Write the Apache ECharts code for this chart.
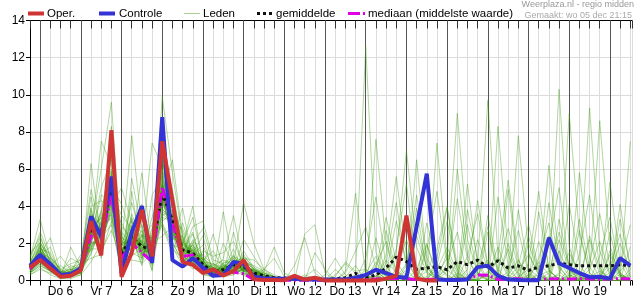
<!DOCTYPE html>
<html><head><meta charset="utf-8">
<script src="https://cdn.jsdelivr.net/npm/echarts@6/dist/echarts.min.js"></script>
<style>html,body{margin:0;padding:0;background:#fff}#c{width:635px;height:300px}</style>
</head><body><div id="c"></div>
<script>
// 6-hourly steps; index 0 = wo 5 dec 18:00
const days = ['Do 6','Vr 7','Za 8','Zo 9','Ma 10','Di 11','Wo 12','Do 13','Vr 14','Za 15','Zo 16','Ma 17','Di 18','Wo 19'];
const yTicks = [0,2,4,6,8,10,12,14];

const oper = [0.72,1.1,0.65,0.2,0.25,0.55,3.2,1.35,8.1,0.2,1.5,3.8,1.3,7.5,4.3,1.0,0.85,0.4,0.6,0.27,0.5,1.1,0.07,0.03,0.03,0.02,0.25,0.05,0.15,0,0,0,0,0,0,0.1,0.25,3.5,0.1,0,0];
const controle = [0.8,1.38,0.88,0.3,0.35,0.65,3.45,2.35,5.6,0.4,2.6,4.0,0.95,8.8,1.1,0.75,1.2,0.7,0.25,0.3,1.0,0.9,0.2,0.12,0.1,0.1,0.1,0.05,0.05,0.05,0.05,0.05,0.15,0.3,0.58,0.4,0.2,0.15,2.9,5.75,0.05,0.03,0.03,0.05,0.72,0.8,0.25,0.05,0.03,0.02,0.02,2.3,0.93,0.67,0.4,0.18,0.2,0.1,1.2,0.8];
const gemiddelde = [0.7,1.3,0.8,0.3,0.35,0.62,2.8,2.55,4.9,1.4,2.37,1.83,1.65,4.7,3.27,1.65,1.48,0.85,0.48,0.58,0.85,0.75,0.4,0.25,0.15,0.13,0.1,0.1,0.05,0.03,0.1,0.15,0.38,0.15,0.3,0.67,1.26,1.02,0.6,0.67,0.75,0.58,1.02,0.85,1.1,0.72,1.06,0.67,0.79,0.54,0.72,0.79,0.93,0.85,0.79,0.79,0.79,0.79,0.85,0.79];
const mediaan = [0.62,1.2,0.75,0.28,0.3,0.6,2.4,2.2,4.6,1.2,2.0,1.5,1.0,5.05,3.0,1.3,1.38,0.6,0.3,0.35,0.45,0.36,0.05,0.03,0.02,0.02,0.02,0.02,0.02,0.02,0.02,0.03,0.05,0.05,0.08,0.1,0.1,0.08,0.05,0.05,0.08,0.06,0.08,0.05,0.3,0.28,0.05,0.08,0.1,0.06,0.05,0.08,0.1,0.07,0.1,0.08,0.06,0.08,0.1,0.08];

// ensemble members (Leden): part A = idx 0-21, part B = idx 22-32, part C = idx 33-59
const ledenA = [
[0.5,1.1,0.6,0.2,0.3,0.5,3.1,1.8,5.6,0.6,2.9,3.5,0.9,6.8,2.5,1.2,1.0,0.6,0.3,0.4,1.1,0.9],
[0.9,2.3,1.0,0.4,0.2,0.8,2.0,3.5,4.2,2.2,1.5,1.2,2.8,4.0,4.5,2.0,1.8,0.9,0.7,0.3,0.5,0.6],
[0.6,1.6,0.9,0.3,0.5,0.4,1.5,2.8,6.8,1.0,3.6,2.0,1.1,5.5,2.0,1.1,2.2,1.3,0.4,0.8,0.6,1.2],
[1.2,3.3,1.2,0.6,0.9,1.1,4.5,2.1,3.8,3.1,2.0,1.6,1.9,3.5,3.8,2.6,1.0,0.5,0.9,0.5,1.4,0.4],
[0.4,0.8,0.5,0.1,0.2,0.3,2.7,6.0,9.6,1.4,1.7,2.4,0.6,7.9,3.0,0.9,1.6,0.7,0.3,3.7,0.8,0.5],
[0.8,1.4,2.3,0.5,0.3,0.9,1.2,1.4,3.2,0.4,4.8,1.3,2.3,2.9,1.5,3.1,1.4,1.9,0.6,0.2,0.3,1.0],
[0.3,0.6,0.4,0.2,1.8,0.7,3.6,3.0,5.1,4.1,2.4,0.9,1.5,9.9,5.8,2.2,0.7,0.4,0.2,0.6,1.7,0.3],
[1.0,1.9,0.7,0.3,0.4,0.5,1.9,2.4,4.6,1.8,7.8,2.9,1.0,4.3,2.7,1.4,2.9,3.2,1.1,0.9,0.5,0.8],
[0.6,1.2,0.8,1.3,0.6,0.4,6.3,2.2,3.6,0.9,1.3,1.8,7.4,6.1,1.8,0.8,1.2,0.6,0.4,0.3,0.9,4.2],
[0.7,1.0,0.6,0.3,0.2,0.6,2.3,7.5,6.2,2.6,1.9,5.8,1.7,3.2,3.6,1.7,1.3,0.8,2.5,0.7,0.4,0.6],
[1.5,2.0,1.1,0.4,0.3,0.8,2.9,1.6,2.7,1.2,2.6,1.5,3.4,5.0,2.3,1.9,4.0,0.9,0.5,1.2,3.5,0.9],
[0.4,0.9,0.5,0.2,0.5,1.4,1.6,3.2,5.4,0.2,2.2,2.1,1.3,4.8,6.5,2.4,0.9,0.3,0.2,0.4,0.6,0.5],
[0.8,1.7,1.5,0.5,0.3,0.5,3.3,2.7,7.2,1.6,1.1,1.0,2.0,2.4,2.9,1.3,1.9,1.2,0.8,0.6,0.7,1.4],
[0.5,1.3,0.7,0.2,0.4,0.6,2.1,1.9,4.0,5.0,3.1,2.6,0.8,5.9,3.3,1.0,1.5,2.4,0.3,0.5,1.0,0.6],
[0.9,1.5,0.8,0.4,1.2,0.9,4.0,4.3,3.9,1.3,2.7,1.4,1.8,4.5,2.2,3.9,1.1,0.5,0.6,0.9,0.3,0.7],
[0.3,0.7,0.3,0.1,0.1,0.3,1.0,2.0,5.8,0.8,2.0,3.0,1.2,6.4,4.0,1.5,2.5,0.8,0.4,0.2,0.6,2.2],
[1.1,2.6,1.3,0.5,0.6,0.7,2.4,3.7,4.4,2.0,3.3,1.1,2.5,3.0,1.7,1.2,0.6,1.6,1.3,1.5,2.1,0.8],
[0.6,1.1,0.9,0.3,0.3,0.4,1.8,2.5,8.3,1.1,1.6,2.2,0.5,3.8,3.4,2.0,3.4,1.0,0.7,0.4,0.5,0.3],
[0.7,1.8,0.6,0.8,0.4,1.0,3.0,1.2,4.8,3.5,2.8,1.7,1.4,7.0,2.6,1.4,0.8,0.4,0.2,1.0,0.9,1.1],
[0.5,1.0,0.5,0.2,0.2,0.5,2.6,2.9,3.4,1.7,4.2,2.3,3.0,4.2,4.9,1.8,1.4,0.7,0.5,0.3,0.4,0.6],
[0.8,1.4,1.8,0.3,0.3,0.6,1.4,3.1,5.3,0.7,2.5,1.9,1.6,5.2,2.1,0.9,2.0,2.8,0.9,0.7,1.2,0.5],
[0.4,1.2,0.7,0.4,0.8,0.6,3.8,2.0,4.5,2.4,1.4,4.1,1.0,3.6,3.1,2.8,1.2,0.6,0.3,2.0,0.8,0.9],
[1.0,2.1,0.9,0.3,0.3,0.5,2.2,5.0,6.5,1.9,2.1,1.2,2.6,8.2,3.7,1.6,0.9,0.5,0.4,0.5,0.6,0.4],
[0.6,0.9,0.6,0.2,0.2,0.4,2.0,2.3,3.0,0.5,5.5,2.7,1.3,4.4,2.4,1.1,1.7,1.1,1.6,0.6,1.3,0.7],
[0.7,1.6,1.0,0.3,0.5,1.2,4.9,2.6,4.1,1.3,1.8,1.6,1.9,4.9,2.8,2.1,1.5,0.8,0.5,0.8,0.5,1.6],
[0.9,1.3,0.8,0.5,0.3,0.6,1.7,1.7,5.9,2.9,2.3,0.8,4.6,5.6,3.5,1.3,1.0,0.9,0.6,0.4,2.6,0.6],
[0.5,1.1,0.5,0.2,0.6,0.5,2.8,3.4,3.5,1.0,2.7,2.0,1.2,3.1,1.9,1.7,2.6,0.6,0.3,0.7,0.6,0.8],
[0.8,1.5,1.2,0.4,0.3,0.8,2.5,2.8,4.7,1.6,3.0,1.4,2.2,6.0,4.2,1.0,1.3,1.4,0.8,1.1,0.9,0.5],
[0.6,1.9,0.7,0.3,0.4,0.4,3.4,1.5,5.0,2.1,1.6,2.5,0.9,4.6,2.2,2.4,0.8,0.5,0.4,0.5,1.0,1.2],
[0.4,1.2,0.6,0.2,0.3,0.7,2.1,4.6,4.3,1.4,2.4,1.9,1.7,3.9,3.0,1.5,1.9,1.1,0.7,0.6,0.7,0.6],
[0.6,1.4,0.7,0.3,0.4,0.6,2.6,2.2,5.0,1.2,2.1,1.7,1.5,4.9,3.0,1.5,1.4,0.8,0.5,0.6,0.9,0.7],
[0.9,1.7,1.1,0.4,0.3,0.7,3.0,3.3,4.4,1.9,2.6,2.0,1.8,4.1,3.6,1.8,1.6,1.0,0.6,0.5,0.8,0.9],
[0.5,1.0,0.6,0.2,0.5,0.5,2.2,2.6,5.7,1.0,2.9,1.5,1.2,5.3,2.6,1.4,1.2,0.7,0.4,0.7,1.0,0.6],
[0.7,1.6,0.9,0.3,0.3,0.8,3.5,1.9,4.6,1.7,1.8,2.3,2.1,4.4,3.9,1.9,1.7,0.9,0.5,0.4,0.7,0.8],
[1.3,2.4,1.0,0.5,0.4,0.6,2.0,3.8,6.0,1.5,2.3,1.6,1.4,6.6,2.8,1.2,2.0,0.6,0.3,0.9,1.3,1.0],
[0.4,0.8,0.5,0.2,0.2,0.4,2.8,2.4,3.7,1.3,3.4,1.9,1.7,3.7,3.3,1.6,1.1,1.2,0.7,0.5,0.6,0.4],
[0.8,1.3,0.8,0.3,0.7,0.9,1.8,2.9,5.2,2.3,2.0,2.7,1.0,5.4,2.4,2.0,1.5,0.7,0.5,0.3,1.1,0.9],
[0.6,2.0,1.3,0.6,0.3,0.5,3.9,2.0,4.0,0.8,2.4,1.3,2.4,4.0,3.5,1.3,1.8,1.0,0.9,0.6,0.5,0.7],
[0.5,1.2,0.7,0.2,0.4,0.7,2.4,3.6,6.7,1.8,1.7,2.2,1.6,5.1,4.3,1.7,1.3,0.6,0.4,0.8,0.7,1.3],
[1.0,1.5,0.6,0.3,0.3,0.5,2.0,2.1,4.3,1.4,3.2,1.8,1.9,4.7,2.9,2.3,1.0,0.8,0.6,0.5,0.9,0.6],
[0.7,1.1,0.9,0.4,0.6,0.8,3.2,2.7,5.5,2.0,2.2,1.5,1.3,3.4,3.2,1.4,2.1,1.1,0.4,0.6,0.8,0.5],
[0.8,1.8,0.8,0.3,0.2,0.6,2.7,3.0,3.3,1.1,2.7,2.4,2.3,5.7,2.5,1.6,1.4,0.9,0.7,0.4,0.6,1.1],
[0.4,1.0,0.5,0.3,0.4,0.5,1.7,2.5,4.8,1.6,1.9,1.7,1.4,4.3,3.7,1.9,1.6,0.7,0.5,0.7,1.2,0.7],
[0.9,1.4,1.0,0.4,0.5,0.7,3.1,2.3,5.1,1.3,2.5,2.1,1.8,5.0,2.7,1.1,1.3,1.0,0.6,0.5,0.7,0.8],
[0.6,1.5,0.7,0.2,0.3,0.6,2.3,3.2,4.9,1.5,2.8,1.6,1.5,4.5,3.1,1.7,1.5,0.8,0.5,0.6,0.9,0.6],
[0.7,1.3,0.8,0.3,0.4,0.5,2.6,2.7,4.5,1.7,2.4,1.9,1.7,5.2,3.4,1.5,1.7,0.9,0.4,0.5,0.8,0.7],
[0.5,1.2,0.6,0.3,0.3,0.6,2.9,2.4,5.3,1.2,2.2,1.8,1.6,4.8,2.9,1.6,1.4,0.7,0.6,0.7,0.7,0.9],
[0.8,1.6,0.9,0.4,0.4,0.7,2.5,2.6,4.2,1.6,2.6,1.7,1.9,4.6,3.2,1.8,1.2,1.0,0.5,0.6,1.0,0.6],
[0.6,1.1,0.7,0.2,0.3,0.5,2.2,2.9,5.4,1.4,2.3,2.0,1.4,4.4,3.0,1.4,1.6,0.8,0.6,0.4,0.8,0.8],
[0.7,1.4,0.8,0.3,0.4,0.6,2.7,2.5,4.7,1.5,2.5,1.8,1.6,5.1,3.3,1.7,1.5,0.9,0.5,0.6,0.9,0.7]
];
const ledenB = [
[0.5,0.2,0.1,0.0,0.1,0.0,0.0,0.0,0.0,0.1,0.2],
[0.3,0.4,0.2,0.1,0.0,0.1,0.0,0.0,0.1,0.0,0.0],
[1.1,0.6,0.3,0.1,0.0,0.0,0.0,0.0,0.0,0.0,0.1],
[0.2,0.1,0.0,0.0,0.0,0.3,0.1,0.0,0.0,0.0,0.0],
[0.6,0.3,0.1,0.0,0.0,0.0,0.0,0.0,0.3,0.9,0.4],
[0.2,0.1,0.1,0.0,0.0,0.0,0.0,0.0,0.0,0.0,0.0],
[0.4,0.2,0.0,0.0,0.0,0.0,0.0,0.0,0.0,0.0,0.0],
[0.3,0.5,1.8,0.4,0.1,0.0,0.0,0.0,0.0,0.0,0.2],
[2.0,0.6,0.2,0.0,0.0,0.0,0.0,0.0,0.0,0.0,0.3],
[0.2,0.1,0.0,0.0,0.0,2.5,3.0,0.4,0.0,0.0,0.0],
[0.4,0.3,0.2,0.0,0.0,0.0,0.0,0.0,0.2,1.0,0.5],
[0.2,0.0,0.0,0.0,0.0,0.0,0.0,0.0,0.0,0.0,0.0],
[0.6,0.3,0.0,0.0,0.0,0.0,0.0,0.0,0.0,0.0,0.0],
[0.3,0.2,0.1,0.0,0.0,0.2,0.6,0.1,0.0,0.0,0.0],
[0.3,0.0,0.0,0.0,0.0,0.0,0.0,0.0,0.0,0.0,0.0],
[1.3,0.4,0.1,0.0,0.0,0.0,0.0,0.0,0.0,0.0,0.0],
[0.5,0.3,0.1,0.0,0.0,0.0,0.0,0.0,0.0,0.0,0.0],
[0.2,0.1,0.0,0.0,0.0,0.0,0.0,0.0,0.0,0.5,4.7],
[0.6,0.2,0.0,0.0,0.0,0.0,0.0,0.0,0.0,0.0,0.0],
[0.3,0.1,0.0,0.0,0.0,0.0,0.0,0.0,0.0,0.0,0.0],
[0.4,0.2,0.0,0.0,0.0,0.0,0.0,0.0,0.0,0.0,0.0],
[0.5,0.3,0.1,0.0,0.0,0.0,0.0,0.0,0.0,0.0,0.0],
[0.3,0.0,0.0,0.0,0.0,0.0,0.0,0.0,0.0,0.0,0.0],
[0.4,0.2,0.0,0.0,0.0,0.0,0.0,0.0,0.0,0.0,0.0],
[0.7,0.4,0.2,0.0,0.0,0.0,0.0,0.0,0.0,0.0,0.0],
[0.3,0.1,0.0,0.0,0.0,0.0,0.0,0.0,0.0,0.0,0.0],
[0.4,0.2,0.0,0.0,0.0,0.0,0.0,0.0,0.0,0.0,0.3],
[0.2,0.0,0.0,0.0,0.0,0.0,0.0,0.0,0.0,0.0,0.0],
[0.6,0.3,0.0,0.0,0.0,0.0,0.0,0.0,0.0,0.0,0.0],
[0.3,0.2,0.0,0.0,0.0,0.0,0.0,0.0,0.0,0.0,0.0],
[0.5,0.3,0.1,0.0,0.0,0.0,0.0,0.0,0.0,0.0,0.1],
[0.3,0.2,0.0,0.0,0.8,2.3,0.4,0.0,0.0,0.0,0.0],
[0.4,0.1,0.0,0.0,0.0,0.0,0.0,0.3,1.2,0.3,0.0],
[0.6,0.4,0.2,0.0,0.0,0.0,0.0,0.0,0.0,0.2,0.8],
[0.8,0.5,0.2,0.1,0.0,0.0,0.0,0.0,0.0,0.0,0.0],
[0.2,0.1,0.0,0.0,0.0,0.0,0.0,0.0,0.0,0.0,0.0],
[0.5,0.2,0.0,0.0,0.0,0.0,1.5,0.6,0.0,0.0,0.0],
[0.4,0.2,0.1,0.0,0.0,0.0,0.0,0.0,0.0,0.0,0.0],
[0.7,0.3,0.0,0.0,0.0,0.0,0.0,0.0,0.0,0.4,1.6],
[0.3,0.1,0.0,0.0,0.0,0.0,0.0,0.0,0.0,0.0,0.0],
[0.4,0.6,1.2,0.2,0.0,0.0,0.0,0.0,0.0,0.0,0.0],
[0.6,0.2,0.0,0.0,0.0,0.0,0.0,0.0,0.0,0.0,0.0],
[0.5,0.3,0.0,0.0,0.0,0.0,0.0,0.0,0.6,0.1,0.0],
[0.3,0.1,0.0,0.0,0.0,0.0,0.0,0.0,0.0,0.0,0.0],
[0.4,0.2,0.0,0.0,0.0,0.0,0.0,0.0,0.0,0.0,0.2],
[0.5,0.2,0.0,0.0,0.0,0.0,0.0,0.0,0.0,0.0,0.0],
[0.3,0.2,0.1,0.0,0.0,0.0,0.0,0.0,0.0,0.0,0.0],
[0.6,0.3,0.0,0.0,0.0,0.0,0.0,0.0,0.0,0.0,0.0],
[0.4,0.1,0.0,0.0,0.0,0.0,0.0,0.0,0.0,0.0,0.0],
[0.5,0.3,0.0,0.0,0.0,0.0,0.0,0.0,0.0,0.0,0.0]
];
const ledenC = [
[0.3,0.8,2.1,0.5, 0.2,0.0,0.1,0.6, 1.8,0.4,0.0,0.0, 0.3,1.2,0.5,0.1, 0.0,0.0,0.4,2.6, 0.8,0.1,0.0,0.2, 0.9,0.3,0.1],
[0.0,0.1,0.4,3.2, 1.0,0.2,0.0,0.0, 0.5,4.4,1.1,0.3, 0.0,0.0,0.1,0.8, 3.0,0.6,0.0,0.0, 0.2,0.5,0.1,0.0, 1.6,0.4,0.0],
[0.2,0.5,0.1,0.0, 0.6,2.4,0.7,0.1, 0.0,0.0,0.2,0.9, 9.7,1.3,0.2,0.0, 0.0,0.3,0.5,0.1, 0.0,0.0,0.6,2.1, 0.4,0.0,0.0],
[0.0,0.0,0.3,1.5, 7.0,1.8,0.4,0.1, 0.0,0.0,0.0,0.4, 0.2,0.0,0.0,0.5, 1.4,0.3,0.0,0.0, 0.0,0.1,0.9,3.6, 0.8,0.2,0.1],
[12.6,1.5,0.3,0.0, 0.0,0.0,0.2,0.8, 0.3,0.0,0.0,0.0, 0.0,0.6,2.8,0.7, 0.1,0.0,0.0,0.0, 0.3,0.1,0.0,0.0, 0.0,0.5,1.1],
[0.1,0.0,0.0,0.2, 0.9,4.6,1.2,0.3, 0.0,0.0,0.1,0.0, 0.0,8.3,1.4,0.2, 0.0,0.0,0.0,0.4, 1.5,0.3,0.0,0.0, 0.2,0.0,0.0],
[0.0,0.2,1.1,0.4, 0.0,0.0,0.0,0.3, 1.2,9.0,2.2,0.4, 0.0,0.0,0.0,0.2, 0.6,0.2,0.0,10.3, 1.8,0.2,0.0,0.0, 0.1,0.3,0.0],
[0.3,0.0,0.0,0.0, 0.0,0.1,0.5,1.7, 4.0,0.8,0.1,0.0, 0.0,0.0,0.3,1.1, 0.2,0.0,0.0,0.0, 0.0,0.4,9.3,1.6, 0.3,0.0,0.0],
[0.1,7.6,1.9,0.3, 0.0,0.0,0.0,0.0, 0.0,0.2,0.0,0.0, 0.4,1.8,0.3,0.0, 0.0,0.0,2.4,0.7, 0.1,0.0,0.0,0.2, 0.0,0.0,0.6],
[0.0,0.0,0.5,0.2, 0.0,0.0,3.1,0.9, 0.2,0.0,0.0,0.0, 0.0,0.2,0.1,7.8, 1.5,0.3,0.0,0.0, 0.0,0.0,0.2,0.5, 0.1,4.1,0.6],
[0.6,0.2,0.0,0.0, 0.0,0.3,0.0,0.0, 0.0,0.0,1.3,3.6, 0.7,0.1,0.0,0.0, 0.0,0.4,6.2,1.1, 0.2,0.0,0.0,0.0, 0.0,0.2,0.0],
[0.0,0.0,0.0,0.6, 2.2,0.5,0.0,0.0, 0.0,0.0,0.0,0.1, 0.3,0.0,0.0,0.0, 0.2,1.0,0.3,0.0, 9.0,2.5,0.4,0.0, 0.0,0.0,0.3],
[0.2,0.0,0.0,0.0, 0.0,0.0,0.0,0.2, 0.6,0.1,5.2,0.8, 0.0,0.0,0.0,0.0, 0.0,0.0,0.1,0.3, 0.0,0.0,0.4,8.6, 1.9,0.2,0.0],
[0.4,1.3,0.2,0.0, 0.0,0.0,0.8,0.1, 0.0,0.0,0.0,0.0, 0.0,0.1,4.9,0.6, 0.0,0.0,0.0,0.0, 0.1,3.3,0.7,0.0, 0.0,0.0,7.5],
[0.0,0.3,0.0,0.0, 0.0,0.0,0.0,0.0, 0.0,0.0,0.0,0.3, 1.1,0.2,0.0,0.0, 0.0,2.1,0.5,0.1, 0.0,0.0,0.0,0.1, 0.4,1.3,0.2],
[0.1,0.0,0.0,0.0, 0.3,6.5,0.9,0.0, 0.0,0.0,0.1,0.0, 0.0,0.0,0.0,0.0, 0.0,0.0,0.0,0.0, 0.6,0.2,0.0,0.0, 0.0,0.0,0.2],
[0.0,0.0,0.9,4.2, 0.6,0.0,0.0,0.0, 0.0,0.4,0.1,0.0, 0.0,0.0,0.0,0.0, 0.3,0.0,0.0,0.0, 0.0,0.0,0.0,0.0, 0.3,2.0,0.4],
[0.3,0.0,0.0,0.0, 0.1,0.0,0.0,7.4, 1.1,0.2,0.0,0.0, 0.0,0.0,0.0,0.0, 0.0,0.0,0.2,0.0, 0.0,0.0,0.0,0.0, 0.0,0.0,0.0],
[0.3,0.1,0.0,0.0, 0.0,0.0,0.0,0.0, 0.0,0.0,0.0,0.0, 2.6,0.4,0.0,0.0, 0.0,0.0,0.0,0.0, 0.0,0.0,0.0,0.0, 0.0,0.0,0.0],
[0.0,0.0,0.0,0.0, 0.0,0.0,0.0,0.0, 0.0,0.0,0.0,0.0, 0.0,0.0,0.0,0.0, 0.0,0.0,0.0,0.0, 0.0,0.0,0.0,0.0, 0.0,0.0,0.0],
[0.0,0.0,0.0,0.0, 0.0,0.0,1.9,0.3, 0.0,0.0,0.0,0.0, 0.0,0.0,0.0,0.0, 0.0,0.0,0.0,0.0, 0.0,5.8,1.2,0.1, 0.0,0.0,0.0],
[0.0,0.0,0.0,0.0, 0.0,0.0,0.0,0.0, 0.0,0.0,0.0,0.0, 0.0,0.0,0.0,0.0, 0.9,4.8,0.6,0.0, 0.0,0.0,0.0,0.0, 0.0,0.0,0.0],
[0.0,0.0,0.0,0.0, 0.0,0.0,0.0,0.0, 0.0,0.0,0.0,0.0, 0.0,0.0,0.0,0.0, 0.0,0.0,0.0,0.0, 0.0,0.0,0.0,0.0, 0.0,0.0,0.0],
[0.0,0.0,0.0,0.0, 0.0,0.0,0.0,0.0, 0.0,0.0,3.0,0.4, 0.0,0.0,0.0,0.0, 0.0,0.0,0.0,0.0, 0.0,0.0,0.0,0.0, 0.0,0.0,0.0],
[0.0,0.0,0.0,0.0, 0.0,0.0,0.0,0.0, 0.0,0.0,0.0,0.0, 0.0,0.0,0.0,0.0, 0.0,0.0,0.0,0.0, 0.0,0.0,0.0,0.0, 0.0,0.0,0.0],
[0.0,0.0,0.0,0.0, 0.0,0.0,0.0,0.0, 0.0,0.0,0.0,0.0, 0.0,0.0,0.0,3.8, 0.5,0.0,0.0,0.0, 0.0,0.0,0.0,0.0, 0.0,0.0,0.0],
[0.0,0.0,2.7,0.5, 0.0,0.0,0.0,0.0, 0.0,0.0,0.0,0.0, 0.0,0.0,0.0,0.0, 0.0,0.0,0.0,0.0, 0.0,0.0,0.0,0.0, 0.0,0.0,0.0],
[0.0,0.0,0.0,0.0, 0.0,0.0,0.0,0.0, 0.0,0.0,0.0,0.0, 0.0,0.0,0.0,0.0, 0.0,0.0,0.0,0.0, 0.0,0.0,2.2,0.3, 0.0,0.0,0.0],
[0.0,0.0,0.0,0.0, 0.0,0.0,0.0,0.0, 1.5,0.2,0.0,0.0, 0.0,0.0,0.0,0.0, 0.0,0.0,0.0,0.0, 0.0,0.0,0.0,0.0, 0.0,0.0,0.0],
[0.0,0.0,0.0,0.0, 0.0,0.0,0.0,0.0, 0.0,0.0,0.0,0.0, 0.0,0.0,0.0,0.0, 0.0,0.0,0.0,0.0, 0.0,0.0,0.0,0.0, 0.0,0.0,0.0],
[0.0,0.5,3.4,1.0, 0.2,0.0,1.6,4.8, 0.9,0.0,0.0,0.7, 2.9,0.4,0.0,0.0, 0.0,1.2,3.1,0.5, 0.0,0.0,2.4,0.6, 0.0,3.3,0.8],
[1.2,4.5,0.8,0.0, 0.0,0.6,2.0,0.3, 0.0,0.0,3.8,1.1, 0.0,0.0,0.5,2.7, 0.4,0.0,0.0,0.0, 4.1,0.9,0.0,0.0, 0.7,2.5,0.2],
[0.0,0.0,0.0,1.7, 5.2,0.6,0.0,0.0, 0.9,2.6,0.3,0.0, 0.0,4.5,0.8,0.0, 0.0,0.0,1.9,5.0, 0.6,0.0,0.0,1.3, 3.4,0.4,0.0],
[0.0,2.3,0.4,0.0, 0.0,0.0,0.0,0.8, 3.2,0.6,0.0,0.0, 0.5,0.0,2.0,0.4, 0.0,3.7,0.6,0.0, 0.0,1.4,4.6,0.7, 0.0,0.0,1.8],
[0.0,0.0,1.4,5.6, 1.3,0.0,0.0,0.0, 0.0,0.3,0.0,2.2, 0.6,0.0,0.0,0.0, 2.4,0.5,0.0,0.0, 0.0,0.0,0.3,0.0, 5.3,1.0,0.0],
[0.6,0.0,0.0,0.0, 0.0,3.0,0.7,0.0, 0.0,0.0,0.6,4.3, 0.8,0.0,0.0,0.0, 0.0,0.0,0.0,1.6, 0.3,0.0,0.0,0.0, 0.0,0.8,3.0],
[0.0,1.0,0.2,0.0, 0.0,0.0,0.0,1.2, 3.9,0.5,0.0,0.0, 0.0,0.0,1.7,0.3, 0.0,0.0,0.0,2.2, 0.6,0.0,0.0,0.0, 1.4,0.3,0.0],
[0.0,0.0,0.0,0.0, 0.8,3.9,0.5,0.0, 0.0,0.0,0.0,0.0, 0.0,1.3,5.4,1.1, 0.0,0.0,0.0,0.0, 0.0,2.7,0.4,0.0, 0.0,0.0,0.0],
[2.9,0.6,0.0,0.0, 0.0,0.0,0.0,0.0, 0.0,1.0,0.2,0.0, 0.0,0.0,0.0,0.0, 0.0,0.0,4.2,0.8, 0.0,0.0,0.0,0.0, 0.0,0.0,0.4],
[0.0,0.0,0.0,0.0, 0.0,0.0,0.0,0.0, 0.0,0.0,0.0,0.0, 0.0,0.0,0.0,0.0, 2.0,0.4,0.0,0.0, 0.0,0.0,0.0,0.0, 0.0,0.0,0.0],
[0.0,0.0,0.0,0.0, 0.0,0.0,0.0,0.0, 0.0,0.0,0.0,0.0, 3.5,0.6,0.0,0.0, 0.0,0.0,0.0,0.0, 0.0,0.0,0.0,0.0, 0.0,0.0,0.0],
[0.0,0.0,0.0,0.0, 0.0,0.0,0.0,0.0, 0.0,6.0,1.4,0.0, 0.0,0.0,0.0,0.0, 0.0,0.0,0.0,0.0, 0.0,0.0,0.0,0.0, 0.0,0.0,0.0],
[0.0,0.0,0.0,0.0, 0.0,0.0,0.0,0.0, 0.0,0.0,0.0,0.0, 0.0,0.0,0.0,0.0, 0.0,0.0,0.0,0.0, 0.0,0.0,0.0,0.0, 2.6,0.3,0.0],
[0.0,0.0,0.0,0.0, 0.0,0.0,0.0,0.0, 0.0,0.0,0.0,0.0, 0.0,0.0,0.0,0.0, 0.0,0.0,0.0,3.3, 0.7,0.0,0.0,0.0, 0.0,0.0,0.0],
[0.0,0.0,0.0,0.0, 0.0,0.0,0.0,0.0, 0.0,0.0,0.0,0.0, 0.0,0.0,0.0,0.0, 0.0,0.0,0.0,0.0, 0.0,0.0,0.0,0.0, 0.0,0.0,0.0],
[0.0,0.0,0.0,0.0, 0.0,0.0,0.0,0.0, 0.0,0.0,0.0,0.0, 0.0,0.0,0.0,0.0, 0.0,0.0,0.0,0.0, 0.0,0.0,0.0,0.0, 0.0,0.0,0.0],
[0.0,0.0,0.0,0.0, 0.0,0.0,0.0,0.0, 0.0,0.0,0.0,0.0, 0.0,0.0,0.0,0.0, 0.0,0.0,0.0,0.0, 0.0,0.0,0.0,0.0, 0.0,0.0,0.0],
[0.0,0.0,0.0,0.0, 0.0,0.0,0.0,0.0, 0.0,0.0,0.0,0.0, 0.0,0.0,0.0,0.0, 0.0,0.0,0.0,0.0, 0.0,0.0,0.0,0.0, 0.0,0.0,0.0],
[0.0,0.0,0.0,0.0, 0.0,0.0,0.0,0.0, 0.0,0.0,0.0,0.0, 0.0,0.0,0.0,0.0, 0.0,0.0,0.0,0.0, 0.0,0.0,0.0,0.0, 0.0,0.0,0.0],
[0.0,0.0,0.0,0.0, 0.0,0.0,0.0,0.0, 0.0,0.0,0.0,0.0, 0.0,0.0,0.0,0.0, 0.0,0.0,0.0,0.0, 0.0,0.0,0.0,0.0, 0.0,0.0,0.0]
];

const leden = ledenA.map((a, i) => a.concat(ledenB[i], ledenC[i]));
const toXY = arr => arr.map((v, i) => [i, v]);
const X_MAX = 59.17;
const dayStart = days.map((d, k) => 1 + 4 * k).concat([1 + 4 * days.length]);

const FONT = 'Liberation Sans, Arial, sans-serif';
const GREEN = 'rgba(60,155,15,0.4)';
const series = [];
leden.forEach((m, i) => {
  series.push({
    name: 'Leden', type: 'line', data: toXY(m), symbol: 'none', silent: true,
    lineStyle: { color: GREEN, width: 1 }, z: 3,
    markLine: i === 0 ? {
      silent: true, symbol: 'none', label: { show: false },
      lineStyle: { color: '#555', width: 1, type: 'solid' },
      data: dayStart.map(x => ({ xAxis: x })), z: 2
    } : undefined
  });
});
series.push({ name: 'gemiddelde', type: 'line', data: toXY(gemiddelde), symbol: 'none', clip: false,
  lineStyle: { color: '#111', width: 3, type: [3, 3] }, z: 5 });
series.push({ name: 'mediaan', type: 'line', data: toXY(mediaan), symbol: 'none', clip: false,
  lineStyle: { color: '#e000e8', width: 3, type: [10, 3, 2, 3] }, z: 6 });
series.push({ name: 'Controle', type: 'line', data: toXY(controle), symbol: 'none', clip: false,
  lineStyle: { color: '#3333d6', width: 4 }, z: 7 });
series.push({ name: 'Oper.', type: 'line', data: toXY(oper), symbol: 'none', clip: false,
  lineStyle: { color: '#d03535', width: 4 }, z: 8 });

const legendY = 13.5;
const LF = '11.5px ' + FONT;
const graphic = [
  { type: 'line', shape: { x1: 28, y1: legendY, x2: 44, y2: legendY }, style: { stroke: '#d03535', lineWidth: 4 } },
  { type: 'text', x: 47, y: legendY, style: { text: 'Oper.', font: LF, fill: '#000', textVerticalAlign: 'middle' } },
  { type: 'line', shape: { x1: 99, y1: legendY, x2: 115, y2: legendY }, style: { stroke: '#3333d6', lineWidth: 4 } },
  { type: 'text', x: 119, y: legendY, style: { text: 'Controle', font: LF, fill: '#000', textVerticalAlign: 'middle' } },
  { type: 'line', shape: { x1: 184, y1: legendY, x2: 200, y2: legendY }, style: { stroke: 'rgba(110,180,80,0.6)', lineWidth: 1 } },
  { type: 'text', x: 203, y: legendY, style: { text: 'Leden', font: LF, fill: '#000', textVerticalAlign: 'middle' } },
  { type: 'line', shape: { x1: 257, y1: legendY, x2: 272, y2: legendY }, style: { stroke: '#111', lineWidth: 3, lineDash: [3, 3] } },
  { type: 'text', x: 276, y: legendY, style: { text: 'gemiddelde', font: LF, fill: '#000', textVerticalAlign: 'middle' } },
  { type: 'line', shape: { x1: 348, y1: legendY, x2: 366, y2: legendY }, style: { stroke: '#e000e8', lineWidth: 3, lineDash: [12, 3, 2, 3] } },
  { type: 'text', x: 368, y: legendY, style: { text: 'mediaan (middelste waarde)', font: LF, fill: '#000', textVerticalAlign: 'middle' } },
  { type: 'text', x: 634, y: 5, style: { text: 'Weerplaza.nl - regio midden', font: '9px ' + FONT, fill: '#999', textAlign: 'right', textVerticalAlign: 'middle' } },
  { type: 'text', x: 632, y: 16, style: { text: 'Gemaakt: wo 05 dec 21:15', font: '9px ' + FONT, fill: '#aaa', textAlign: 'right', textVerticalAlign: 'middle' } }
];

const chart = echarts.init(document.getElementById('c'), null, { renderer: 'canvas' });
chart.setOption({
  animation: false,
  backgroundColor: '#fff',
  grid: { left: 30, right: 0, top: 20.5, bottom: 19.5 },
  xAxis: [{
    type: 'value', position: 'bottom', min: 0, max: X_MAX, interval: 1,
    axisLine: { show: true, lineStyle: { color: '#000', width: 1 } },
    axisTick: { show: true, length: 5, lineStyle: { color: '#000' } },
    splitLine: { show: true, lineStyle: { color: '#dcdcdc', width: 1 } },
    axisLabel: {
      color: '#000', fontSize: 12, fontFamily: FONT, margin: 5, showMinLabel: true, showMaxLabel: true,
      formatter: v => { const r = Math.round(v); if (Math.abs(v - r) > 1e-6) return ''; const k = (r - 3) / 4; return (Number.isInteger(k) && k >= 0 && k < days.length) ? days[k] : ''; }
    }
  }, {
    type: 'value', position: 'top', min: 0, max: X_MAX, interval: 1,
    axisLine: { show: true, lineStyle: { color: '#000', width: 1 } },
    axisTick: { show: true, inside: true, length: 8, lineStyle: { color: '#333' } },
    splitLine: { show: false }, axisLabel: { show: false }
  }],
  yAxis: {
    type: 'value', min: 0, max: 14, interval: 2,
    axisLine: { show: true, lineStyle: { color: '#000', width: 1 } },
    axisTick: { show: true, length: 4, lineStyle: { color: '#000' } },
    splitLine: { show: true, lineStyle: { color: '#dcdcdc', width: 1 } },
    axisLabel: { color: '#000', fontSize: 12, fontFamily: FONT, margin: 5,
      formatter: v => (yTicks.indexOf(v) >= 0 ? String(v) : '') }
  },
  graphic: graphic,
  series: series
});
</script>
</body></html>
